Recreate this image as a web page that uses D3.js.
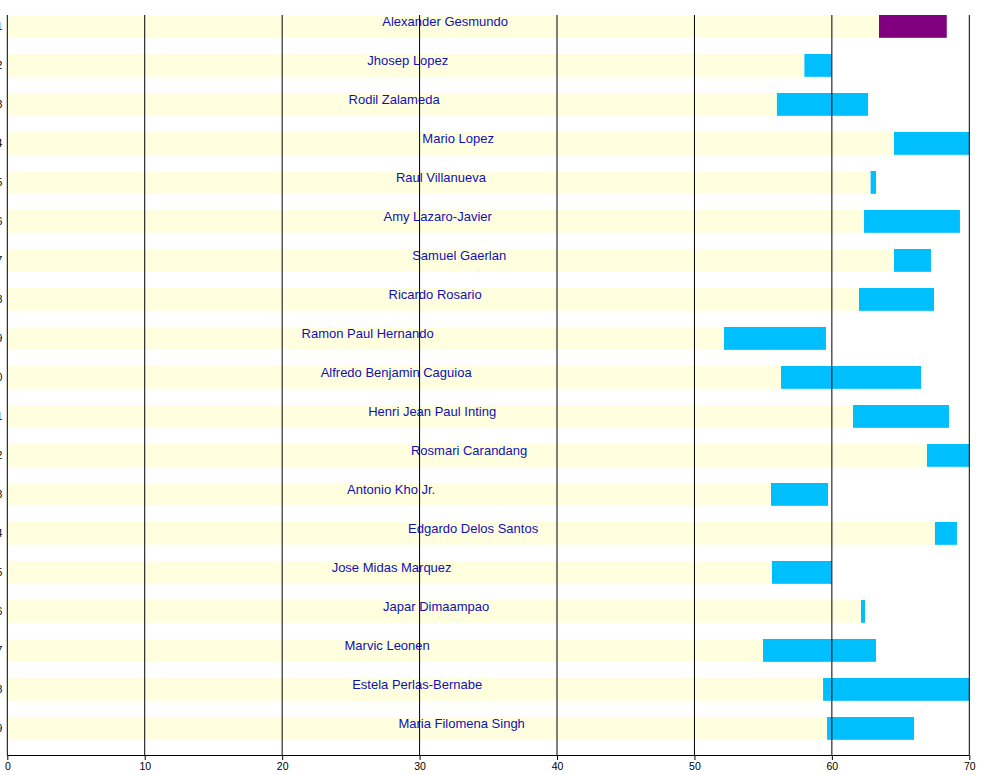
<!DOCTYPE html>
<html>
<head>
<meta charset="utf-8">
<script src="https://cdn.jsdelivr.net/npm/d3@7"></script>
<style>
  html, body { margin: 0; padding: 0; background: #ffffff; }
  svg { display: block; font-family: "Liberation Sans", Arial, sans-serif; }
</style>
</head>
<body>
<svg id="chart" width="1000" height="775"></svg>
<script>
const rowIds = [1,2,3,4,5,6,7,8,9,10,11,12,13,14,15,16,17,18,19];
const names = [
  "Alexander Gesmundo", "Jhosep Lopez", "Rodil Zalameda", "Mario Lopez",
  "Raul Villanueva", "Amy Lazaro-Javier", "Samuel Gaerlan", "Ricardo Rosario",
  "Ramon Paul Hernando", "Alfredo Benjamin Caguioa", "Henri Jean Paul Inting",
  "Rosmari Carandang", "Antonio Kho Jr.", "Edgardo Delos Santos",
  "Jose Midas Marquez", "Japar Dimaampao", "Marvic Leonen",
  "Estela Perlas-Bernabe", "Maria Filomena Singh"
];
const roles = ["chief","associate","associate","associate","associate","associate","associate",
  "associate","associate","associate","associate","associate","associate","associate",
  "associate","associate","associate","associate","associate"];
const startAge = [63.43, 58.0, 56.0, 64.52, 62.82, 62.34, 64.52, 61.97, 52.15, 56.3,
  61.54, 66.92, 55.57, 67.5, 55.64, 62.12, 54.99, 59.36, 59.65];
const endAge = [68.36, 60.0, 62.63, 70.0, 63.21, 69.32, 67.21, 67.43, 59.57, 66.49,
  68.52, 70.0, 59.72, 69.1, 60.0, 62.41, 63.21, 70.0, 65.98];
const baseAge = [63.43, 58.0, 56.0, 65.32, 62.82, 62.34, 65.47, 61.97, 52.15, 56.3,
  61.54, 66.92, 55.57, 67.5, 55.64, 62.12, 54.99, 59.36, 65.83];
const xTicks = [0,10,20,30,40,50,60,70];

const rows = rowIds.map((id, i) => ({
  id, name: names[i], role: roles[i], start: startAge[i], end: endAge[i], base: baseAge[i]
}));

const svg = d3.select("#chart");
const mLeft = 7.3, mRight = 969.3, mTop = 15, mBottom = 755;

const x = d3.scaleLinear().domain([0, 70]).range([mLeft, mRight]);
const y = d3.scaleBand().domain(rowIds).range([mTop, mTop + 39 * rowIds.length]).padding(0);
const barH = y.bandwidth() * 0.585;
const color = d3.scaleOrdinal().domain(["chief","associate"]).range(["#800080","#00bfff"]);

// background (pale yellow) bars
svg.append("g").selectAll("rect").data(rows).join("rect")
  .attr("x", x(0))
  .attr("y", d => y(d.id))
  .attr("width", d => x(d.base) - x(0))
  .attr("height", barH)
  .attr("fill", "#ffffe0");

// tenure bars
svg.append("g").selectAll("rect").data(rows).join("rect")
  .attr("x", d => x(d.start))
  .attr("y", d => y(d.id))
  .attr("width", d => x(d.end) - x(d.start))
  .attr("height", barH)
  .attr("fill", d => color(d.role));

// name labels
svg.append("g").selectAll("text").data(rows).join("text")
  .attr("x", d => (x(0) + x(d.base)) / 2 + 2)
  .attr("y", d => y(d.id) + barH / 2 - 0.5)
  .attr("text-anchor", "middle")
  .attr("font-size", 13)
  .attr("fill", "#1010b8")
  .text(d => d.name);

// vertical grid lines
svg.append("g").selectAll("line").data(xTicks.slice(1)).join("line")
  .attr("x1", d => x(d)).attr("x2", d => x(d))
  .attr("y1", mTop).attr("y2", mBottom)
  .attr("stroke", "#000").attr("stroke-width", 1);

// x axis
const xAxis = d3.axisBottom(x).tickValues(xTicks).tickSize(5).tickPadding(3).tickFormat(d3.format("d"));
const gx = svg.append("g").attr("transform", `translate(0,${mBottom})`).call(xAxis);
gx.select(".domain").attr("stroke", "#000").attr("d", `M${mLeft},0.5H${mRight}`);
gx.selectAll("text").attr("font-size", 10.5).attr("fill", "#000")
  .attr("font-family", "Liberation Sans, Arial, sans-serif");

// y axis
const yAxis = d3.axisLeft(y).tickSize(0).tickPadding(5);
const gy = svg.append("g").attr("transform", `translate(${mLeft},0)`).call(yAxis);
gy.select(".domain").attr("stroke", "#000").attr("d", `M0,${mTop}V${mBottom}`);
gy.selectAll(".tick text")
  .attr("transform", `translate(0,${barH / 2 - y.bandwidth() / 2})`)
  .attr("font-size", 10.5).attr("fill", "#000")
  .attr("font-family", "Liberation Sans, Arial, sans-serif");
</script>
</body>
</html>
